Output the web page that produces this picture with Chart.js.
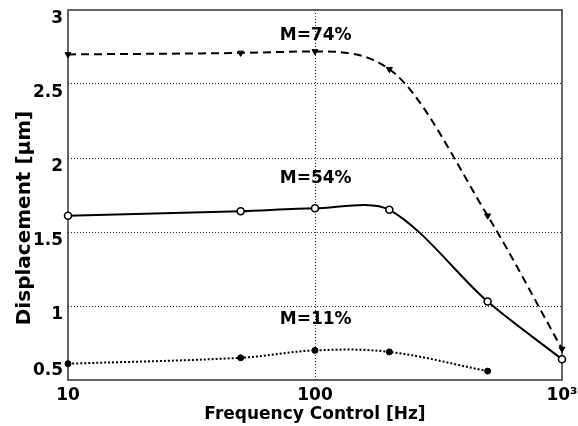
<!DOCTYPE html>
<html>
<head>
<meta charset="utf-8">
<script src="https://cdn.jsdelivr.net/npm/chart.js@4"></script>
<style>
  html, body { margin: 0; padding: 0; background: #fff; }
  canvas { display: block; }
</style>
</head>
<body>
<canvas id="chart" width="578" height="426"></canvas>
<script>
// Measured displacement versus control frequency for three modulation levels
const frequencies = [10, 50, 100, 200, 500, 1000];
const dispM74 = [2.70, 2.71, 2.72, 2.60, 1.61, 0.71];
const dispM54 = [1.61, 1.64, 1.66, 1.65, 1.03, 0.64];
const freqM11 = [10, 50, 100, 200, 500];
const dispM11 = [0.61, 0.65, 0.70, 0.69, 0.56];

const seriesNames = ['M=74%', 'M=54%', 'M=11%'];
// where each series name is written, in data units (frequency, displacement)
const seriesNameAnchors = [[72, 2.83], [72, 1.86], [72, 0.905]];

const xTickValues = [10, 100, 1000];
const xTickLabels = ['10', '100', '10³'];
const yTickValues = [0.5, 1, 1.5, 2, 2.5, 3];
const yTickLabels = ['0.5', '1', '1.5', '2', '2.5', '3'];

const FONT = 'DejaVu Sans';
const INK = '#000';
const GRID = '#222';

const toPoints = (xs, ys) => xs.map((x, i) => ({ x, y: ys[i] }));

// Box round the plotting area
const framePlugin = {
  id: 'frame',
  beforeDatasetsDraw(chart) {
    const { ctx, chartArea: a } = chart;
    ctx.save();
    ctx.strokeStyle = '#333';
    ctx.lineWidth = 1.5;
    ctx.strokeRect(a.left, a.top, a.right - a.left, a.bottom - a.top);
    ctx.restore();
  }
};

// Y tick labels, the vertical axis title and the series names
const textPlugin = {
  id: 'texts',
  afterDraw(chart) {
    const { ctx, chartArea: a, scales } = chart;
    const y = scales.y, x = scales.x;
    ctx.save();
    ctx.fillStyle = INK;
    ctx.font = `bold 17px "${FONT}"`;
    ctx.textAlign = 'right';
    ctx.textBaseline = 'middle';
    yTickValues.forEach((v, i) => {
      const py = y.getPixelForValue(v) + (v === y.min ? -9 : 9);
      ctx.fillText(yTickLabels[i], a.left - 5, py);
    });

    ctx.save();
    ctx.font = `bold 20px "${FONT}"`;
    ctx.textAlign = 'center';
    ctx.translate(a.left - 43, (a.top + a.bottom) / 2 + 23);
    ctx.rotate(-Math.PI / 2);
    ctx.fillText('Displacement [μm]', 0, 0);
    ctx.restore();

    ctx.font = `bold 17px "${FONT}"`;
    ctx.textAlign = 'left';
    seriesNames.forEach((name, i) => {
      const [fx, fy] = seriesNameAnchors[i];
      ctx.fillText(name, x.getPixelForValue(fx), y.getPixelForValue(fy));
    });
    ctx.restore();
  }
};

const lineBase = {
  borderColor: INK,
  borderWidth: 2,
  clip: 10
};

new Chart(document.getElementById('chart'), {
  type: 'line',
  data: {
    datasets: [
      Object.assign({}, lineBase, {
        label: seriesNames[0],
        data: toPoints(frequencies, dispM74),
        cubicInterpolationMode: 'monotone',
        backgroundColor: INK,
        borderDash: [8, 5],
        pointStyle: 'triangle',
        pointRotation: 180,
        pointRadius: 3.5,
        pointBorderWidth: 1,
        pointBackgroundColor: INK
      }),
      Object.assign({}, lineBase, {
        label: seriesNames[1],
        data: toPoints(frequencies, dispM54),
        tension: 0.3,
        backgroundColor: '#fff',
        pointStyle: 'circle',
        pointRadius: 3.5,
        pointBorderWidth: 1.6,
        pointBackgroundColor: '#fff'
      }),
      Object.assign({}, lineBase, {
        label: seriesNames[2],
        data: toPoints(freqM11, dispM11),
        tension: 0.35,
        backgroundColor: INK,
        borderDash: [2, 2],
        pointStyle: 'circle',
        pointRadius: 3,
        pointBorderWidth: 1,
        pointBackgroundColor: INK
      })
    ]
  },
  options: {
    responsive: false,
    animation: false,
    layout: { padding: { top: 10, right: 16, left: 0, bottom: 0 } },
    plugins: {
      legend: { display: false },
      tooltip: { enabled: false }
    },
    scales: {
      x: {
        type: 'logarithmic',
        min: 10,
        max: 1000,
        afterBuildTicks: s => { s.ticks = xTickValues.map(v => ({ value: v, major: true })); },
        afterFit: s => { s.height = 46; s.paddingLeft = 0; s.paddingRight = 0; },
        ticks: {
          autoSkip: false,
          maxRotation: 0,
          padding: 5,
          color: INK,
          font: { family: FONT, size: 17, weight: 'bold' },
          callback: v => { const i = xTickValues.indexOf(v); return i >= 0 ? xTickLabels[i] : ''; }
        },
        grid: {
          drawTicks: false,
          lineWidth: 1,
          color: c => (c.tick && c.tick.value > 10 && c.tick.value < 1000) ? GRID : 'rgba(0,0,0,0)'
        },
        border: { display: false, dash: [1, 2] },
        title: {
          display: true,
          text: 'Frequency Control [Hz]',
          color: INK,
          font: { family: FONT, size: 17, weight: 'bold' },
          padding: { top: 0, bottom: 1 }
        }
      },
      y: {
        type: 'linear',
        min: 0.5,
        max: 3,
        afterBuildTicks: s => { s.ticks = yTickValues.map(v => ({ value: v })); },
        afterFit: s => { s.width = 68; },
        ticks: { display: false },
        grid: {
          drawTicks: false,
          lineWidth: 1,
          color: c => (c.tick && c.tick.value > 0.5 && c.tick.value < 3) ? GRID : 'rgba(0,0,0,0)'
        },
        border: { display: false, dash: [1, 2] }
      }
    }
  },
  plugins: [framePlugin, textPlugin]
});
</script>
</body>
</html>
